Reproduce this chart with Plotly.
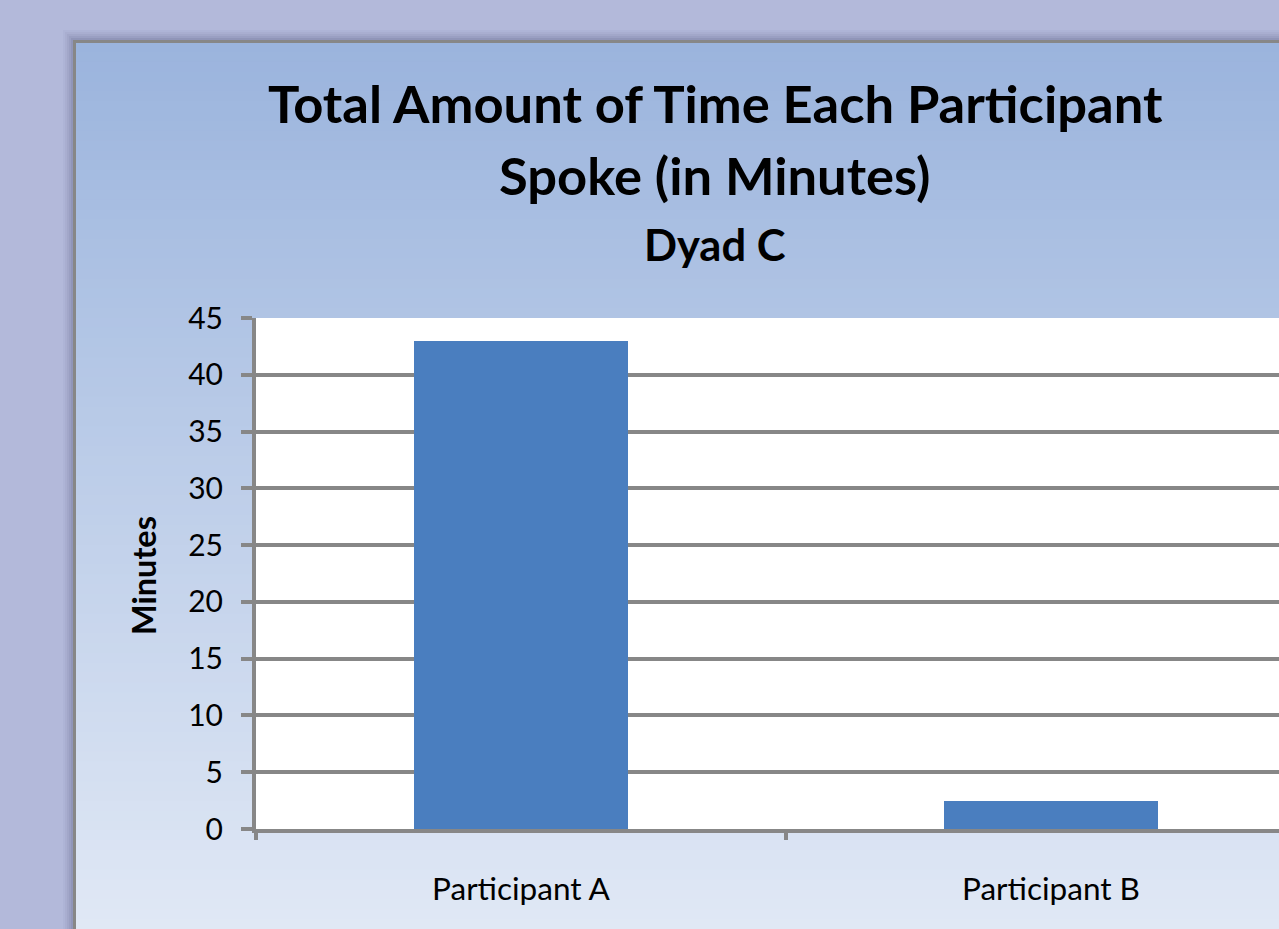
import plotly.graph_objects as go

categories = ["Participant A", "Participant B"]
minutes = [43, 2.5]
y_ticks = [0, 5, 10, 15, 20, 25, 30, 35, 40, 45]

W, H = 1279, 929
L, R, T, B = 256, 0, 318, 100
FONT = "Lato"

fig = go.Figure()
fig.add_trace(go.Bar(
    x=[0, 1], y=minutes, width=0.404,
    marker=dict(color="#4a7ebf", line=dict(width=0)),
    hoverinfo="skip",
))


def px_x(px):
    return (px - L) / (W - L - R)


def px_y(py):
    return (H - B - py) / (H - T - B)


shapes = []
# outer drop shadow approximation
for i, op in enumerate([0.03, 0.04, 0.05, 0.06, 0.08]):
    d = 10 - 2 * i
    shapes.append(dict(type="rect", xref="paper", yref="paper", layer="below",
                       x0=px_x(73 - d), x1=px_x(W + 20),
                       y0=px_y(H + 20), y1=px_y(40 - d),
                       fillcolor=f"rgba(40,40,80,{op})", line=dict(width=0)))

# gradient panel
top_c = (0x9b, 0xb4, 0xdd)
bot_c = (0xe0, 0xe8, 0xf5)
y0p, y1p = 42, H
n = 90
for i in range(n):
    a = y0p + (y1p - y0p) * i / n
    b = y0p + (y1p - y0p) * (i + 1) / n + 1
    t = i / (n - 1)
    c = tuple(int(round(top_c[k] + (bot_c[k] - top_c[k]) * t)) for k in range(3))
    shapes.append(dict(type="rect", xref="paper", yref="paper", layer="below",
                       x0=px_x(75), x1=px_x(W + 5), y0=px_y(b), y1=px_y(a),
                       fillcolor="rgb(%d,%d,%d)" % c, line=dict(width=0)))
# panel border
shapes.append(dict(type="rect", xref="paper", yref="paper", layer="below",
                   x0=px_x(74.5), x1=px_x(W + 10), y0=px_y(H + 10), y1=px_y(41.5),
                   fillcolor="rgba(0,0,0,0)", line=dict(color="#878787", width=3)))
# white plot area
shapes.append(dict(type="rect", xref="paper", yref="paper", layer="below",
                   x0=0, x1=1, y0=0, y1=1, fillcolor="white", line=dict(width=0)))

annotations = [
    dict(text="<b>Total Amount of Time Each Participant</b>", x=px_x(715), y=px_y(103),
         xref="paper", yref="paper", showarrow=False, xanchor="center", yanchor="middle",
         font=dict(family=FONT, size=52.5, color="black")),
    dict(text="<b>Spoke (in Minutes)</b>", x=px_x(714), y=px_y(174),
         xref="paper", yref="paper", showarrow=False, xanchor="center", yanchor="middle",
         font=dict(family=FONT, size=52.5, color="black")),
    dict(text="<b>Dyad C</b>", x=px_x(715), y=px_y(244),
         xref="paper", yref="paper", showarrow=False, xanchor="center", yanchor="middle",
         font=dict(family=FONT, size=43.5, color="black")),
    dict(text="<b>Minutes</b>", x=px_x(143), y=px_y(576), textangle=-90,
         xref="paper", yref="paper", showarrow=False, xanchor="center", yanchor="middle",
         font=dict(family=FONT, size=32.5, color="black")),
]

fig.update_layout(
    width=W, height=H,
    margin=dict(l=L, r=R, t=T, b=B, pad=0),
    paper_bgcolor="#b3b9da",
    plot_bgcolor="rgba(0,0,0,0)",
    showlegend=False,
    shapes=shapes,
    annotations=annotations,
    bargap=0,
    xaxis=dict(
        type="linear",
        range=[-0.5, -0.5 + (W - L - R) / 530.0],
        tickmode="array", tickvals=[0, 1], ticktext=categories,
        showgrid=False, zeroline=False,
        showline=True, linecolor="#878787", linewidth=4,
        ticks="", tickfont=dict(family=FONT, size=31.5, color="black"),
        ticklabelstandoff=29,
        fixedrange=True,
    ),
    yaxis=dict(
        range=[0, 45], tickvals=y_ticks,
        showgrid=True, gridcolor="#878787", gridwidth=4,
        zeroline=False,
        showline=True, linecolor="#878787", linewidth=4,
        ticks="outside", ticklen=11, tickwidth=4, tickcolor="#878787",
        tickfont=dict(family=FONT, size=30, color="black"),
        ticklabelstandoff=12,
        fixedrange=True,
    ),
)

# category boundary ticks (drawn on a secondary overlaid axis)
fig.update_layout(xaxis2=dict(
    overlaying="x", matches="x", side="bottom",
    tickmode="array", tickvals=[-0.5, 0.5, 1.5], ticktext=["", "", ""],
    ticks="outside", ticklen=10, tickwidth=4, tickcolor="#878787",
    showgrid=False, zeroline=False, showline=False, fixedrange=True,
))
fig.add_trace(go.Scatter(x=[0], y=[0], xaxis="x2", mode="markers",
                         marker=dict(opacity=0), hoverinfo="skip"))

fig.write_html(
    "out.html",
    config={"displayModeBar": False},
    post_script="document.body.style.margin='0';document.body.style.overflow='hidden';",
)
